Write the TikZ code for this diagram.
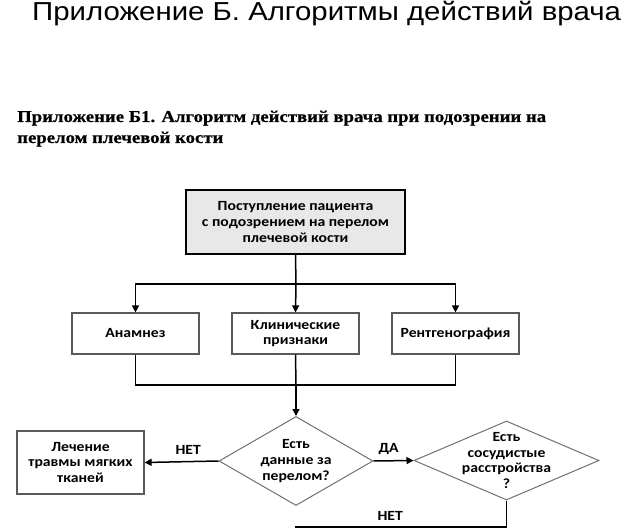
\documentclass[tikz,border=0pt]{standalone}
\usepackage{fontspec}
\setmainfont{Carlito}
\newfontfamily\flowfam{Carlito}[FakeStretch=1.12]
\newfontfamily\titlefont{Liberation Sans}[FakeStretch=1.13]
\newfontfamily\subfont{Liberation Serif}[FakeStretch=1.13,FakeBold=0.6]
\usetikzlibrary{shapes.geometric,arrows.meta}
\definecolor{boxgray}{HTML}{5A5A5A}
\definecolor{diagray}{HTML}{707070}
\definecolor{topfill}{HTML}{E8E8E8}
\newcommand\flowfont{\flowfam\bfseries\fontsize{14}{15.8}\selectfont}
\begin{document}
\begin{tikzpicture}[x=1pt,y=-1pt,
  box/.style={draw=boxgray,line width=1.2pt,inner sep=0pt,align=center,font=\flowfont,minimum width=127pt},
  topbox/.style={draw=black,line width=2.2pt,fill=topfill,inner sep=0pt,align=center,font=\flowfont,minimum width=219pt,minimum height=64pt},
  decision/.style={diamond,draw=diagray,line width=1pt,inner sep=0pt},
  conn/.style={draw=black,line width=1.5pt},
  arrow/.style={conn,-{Triangle[length=7pt,width=7pt]}},
  lbl/.style={font=\flowfont,inner sep=0pt},
]
\useasboundingbox (0,0) rectangle (624,529);

\node[anchor=base west,inner sep=0pt,font=\titlefont\fontsize{26}{30}\selectfont] (title) at (32,21) {Приложение Б. Алгоритмы действий врача};
\node[anchor=base west,inner sep=0pt,font=\subfont\bfseries\fontsize{16.6}{21}\selectfont] (sub1) at (17,122) {Приложение Б1. Алгоритм действий врача при подозрении на};
\node[anchor=base west,inner sep=0pt,font=\subfont\bfseries\fontsize{16.6}{21}\selectfont] (sub2) at (17,143) {перелом плечевой кости};

\node[topbox] (start) at (295.5,222) {Поступление пациента\\с подозрением на перелом\\плечевой кости};
\node[box,minimum height=41pt] (anam) at (135.5,333.5) {Анамнез};
\node[box,minimum height=41pt] (clin) at (295.5,333.5) {Клинические\\признаки};
\node[box,minimum height=41pt] (rentg) at (455.5,333.5) {Рентгенография};

\node[decision,minimum width=154pt,minimum height=89pt,
  label={[lbl,align=center]center:{Есть\\данные за\\перелом?}}] (q1) at (296,461) {};
\node[box,minimum height=63pt] (treat) at (80.5,462.5) {Лечение\\травмы мягких\\тканей};
\node[decision,minimum width=185pt,minimum height=79pt,
  label={[lbl,align=center]center:{Есть\\сосудистые\\расстройства\\?}}] (q2) at (506.5,460.5) {};

\coordinate (j1) at (296,284);
\coordinate (j2) at (296,385);
\coordinate (b1) at (506.5,527);
\coordinate (b2) at (295,527);

\draw[conn] (start.south) -- (j1);
\draw[arrow] (j1) -| (anam.north);
\draw[arrow] (j1) -- (clin.north);
\draw[arrow] (j1) -| (rentg.north);

\draw[conn] (anam.south) |- (j2);
\draw[conn] (rentg.south) |- (j2);
\draw[conn] (clin.south) -- (j2);
\draw[arrow] (j2) -- (q1.north);

\draw[arrow] (q1.west) -- (treat.east) node[lbl,pos=0.41,yshift=12pt] (no1) {НЕТ};
\draw[arrow] (q1.east) -- (q2.west) node[lbl,pos=0.38,yshift=12pt] (yes1) {ДА};
\draw[conn] (q2.south) -- (b1) -- (b2) node[lbl,pos=0.55,yshift=11pt] (no2) {НЕТ};
\end{tikzpicture}
\end{document}
